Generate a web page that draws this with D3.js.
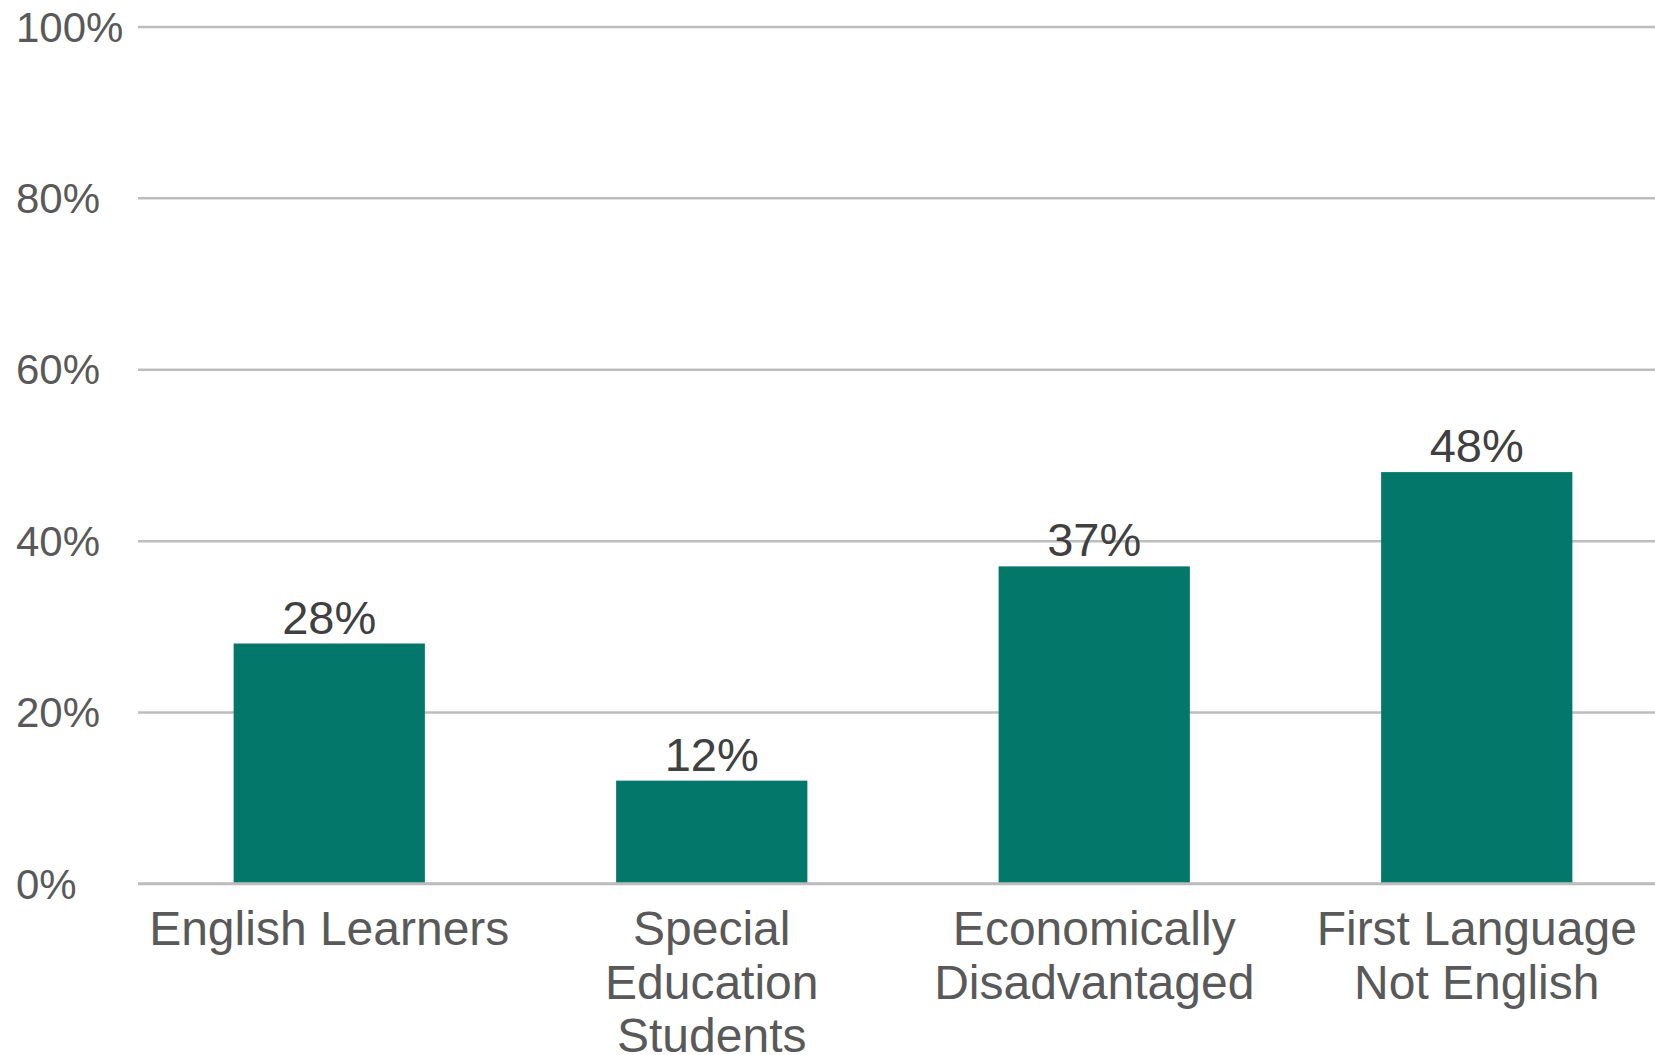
<!DOCTYPE html>
<html><head><meta charset="utf-8">
<script src="https://cdn.jsdelivr.net/npm/d3@7"></script>
<style>
html,body{margin:0;padding:0;background:#fff;}
svg{display:block;font-family:"Liberation Sans",Arial,sans-serif;}
</style></head>
<body>
<svg id="chart" width="1655" height="1055"></svg>
<script>
const categories = ["English Learners", "Special Education Students", "Economically Disadvantaged", "First Language Not English"];
const categoryLines = [["English Learners"], ["Special", "Education", "Students"], ["Economically", "Disadvantaged"], ["First Language", "Not English"]];
const values = [0.28, 0.12, 0.37, 0.48];
const yTicks = [0, 0.2, 0.4, 0.6, 0.8, 1.0];

const svg = d3.select("#chart");
const x = d3.scaleBand().domain(categories).range([138, 1668]).paddingInner(0.5).paddingOuter(0.25);
const y = d3.scaleLinear().domain([0, 1]).range([883.5, 26.4]);
const fmt = d3.format(".0%");

// gridlines
const grid = svg.append("g").attr("transform", "translate(138,0)")
  .call(d3.axisRight(y).tickValues(yTicks).tickSize(1655 - 138).tickFormat(""));
grid.select(".domain").remove();
grid.selectAll(".tick line").attr("stroke", "#bdbdbd").attr("stroke-width", 2.5);

// y tick labels
const yAx = svg.append("g").attr("transform", "translate(16,0)")
  .call(d3.axisRight(y).tickValues(yTicks).tickSize(0).tickPadding(0).tickFormat(fmt));
yAx.select(".domain").remove();
yAx.selectAll(".tick text").attr("font-size", 42).attr("fill", "#595959")
  .attr("font-family", "Liberation Sans, Arial, sans-serif")
  .attr("text-anchor", "start").attr("dy", "0.35em").attr("x", 0);

// bars
svg.append("g").selectAll("rect").data(values).join("rect")
  .attr("x", (d, i) => x(categories[i]))
  .attr("width", x.bandwidth())
  .attr("y", d => y(d))
  .attr("height", d => y(0) - y(d))
  .attr("fill", "#03786A");

// baseline over bar bottoms
svg.append("line").attr("x1", 138).attr("x2", 1655).attr("y1", y(0)).attr("y2", y(0))
  .attr("stroke", "#bdbdbd").attr("stroke-width", 2.5);

// data labels
svg.append("g").selectAll("text").data(values).join("text")
  .attr("x", (d, i) => x(categories[i]) + x.bandwidth() / 2)
  .attr("y", d => y(d) - 10)
  .attr("text-anchor", "middle")
  .attr("font-size", 47).attr("fill", "#404040")
  .text(d => fmt(d));

// category labels
const cat = svg.append("g").selectAll("text").data(categoryLines).join("text")
  .attr("x", (d, i) => x(categories[i]) + x.bandwidth() / 2)
  .attr("y", 945)
  .attr("text-anchor", "middle")
  .attr("font-size", 48).attr("fill", "#595959");
cat.selectAll("tspan").data((d, i) => d.map(l => ({l, i}))).join("tspan")
  .attr("x", d => x(categories[d.i]) + x.bandwidth() / 2)
  .attr("dy", (d, j) => j === 0 ? 0 : 53.5)
  .text(d => d.l);
</script>
</body></html>
